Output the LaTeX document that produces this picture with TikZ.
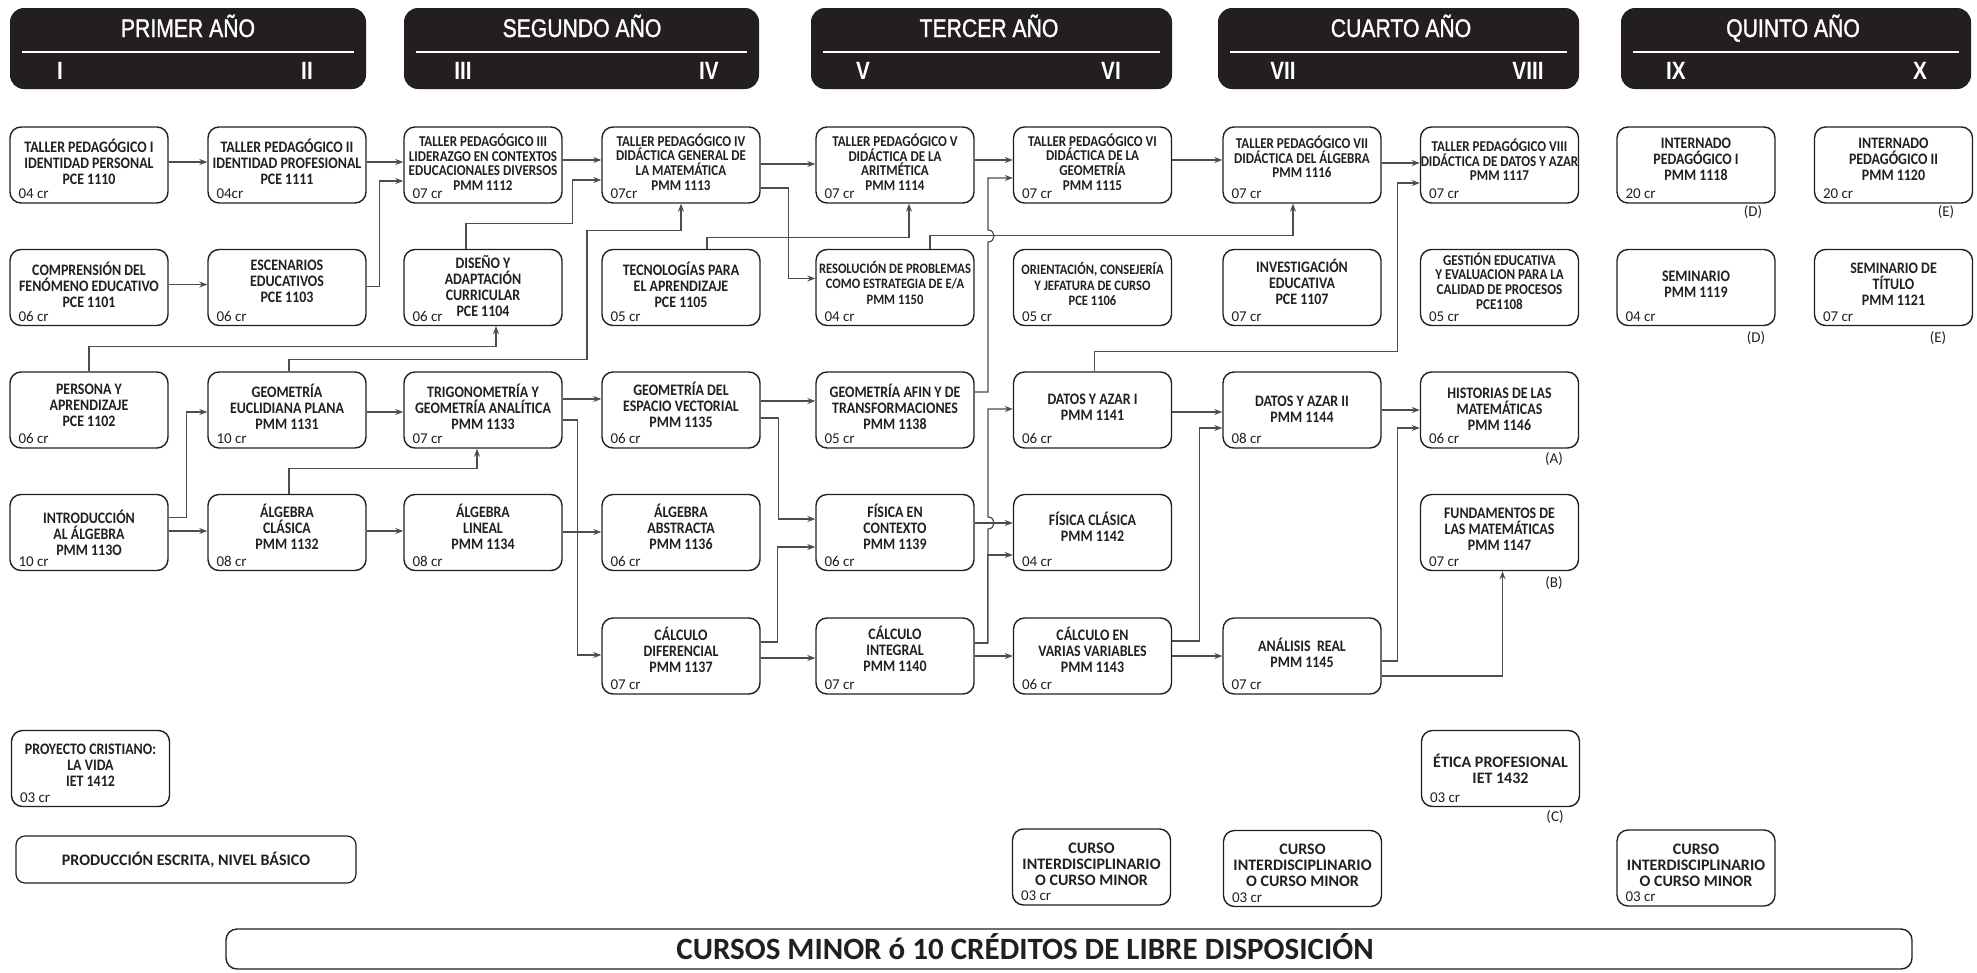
\documentclass[tikz,border=0pt]{standalone}
\usepackage{fontspec}
\setmainfont{Carlito}
\newfontfamily\condb{Carlito}[FakeStretch=0.87]
\newfontfamily\headf{Liberation Sans}[FakeStretch=0.83]
\newfontfamily\headfb{Liberation Sans}[FakeStretch=0.83,FakeBold=1.2]
\usetikzlibrary{arrows.meta,calc}
\definecolor{boxc}{HTML}{231F20}
\definecolor{linec}{HTML}{4D4D4D}
\definecolor{headc}{HTML}{231F20}
\tikzset{
  cbox/.style={draw=boxc, line width=1.4pt, rounded corners=11, minimum width=158, minimum height=76, inner sep=0},
  ctext/.style={align=center, inner sep=0, text=boxc, font=\condb\bfseries\fontsize{16}{16}\selectfont},
  ctext4/.style={align=center, inner sep=0, text=boxc, font=\condb\bfseries\fontsize{15}{14.6}\selectfont},
  ctextS/.style={align=center, inner sep=0, text=boxc, font=\condb\bfseries\fontsize{14.4}{15.5}\selectfont},
  cbig/.style={align=center, inner sep=0, text=boxc, font=\bfseries\fontsize{16}{16}\selectfont},
  crtext/.style={anchor=base west, inner sep=0, text=boxc, font=\fontsize{15}{16}\selectfont},
  lbl/.style={inner sep=0, text=boxc, font=\fontsize{15}{16}\selectfont},
  conn/.style={draw=linec, line width=1.2pt, -{Stealth[length=8pt,width=6pt]}},
  hbox/.style={fill=headc, rounded corners=14, minimum height=81, inner sep=0},
  htitle/.style={anchor=base, inner sep=0, text=white, font=\headfb\fontsize{25.5}{25.5}\selectfont},
  hnum/.style={anchor=base, inner sep=0, text=white, font=\headf\bfseries\fontsize{25}{25}\selectfont},
}
\newcommand\mkc[6]{%
  \node[cbox] (#1) at (#2,#3) {};
  \node[#4] (#1t) at ($(#1.center)+(0,-3)$) {#5};
  \node[crtext] (#1c) at ($(#1.south west)+(9,-5)$) {#6};}
\newcommand\mkhead[9]{%
  \node[hbox, minimum width=#3-#2] (#1) at ({(#2+#3)/2},48.5) {};
  \draw[white, line width=1.5pt] ($(#1.west)+(12,3.5)$) -- ($(#1.east)+(-12,3.5)$);
  \node[htitle] (#1t) at (#4,37) {#5};
  \node[hnum] (#1a) at (#6,79) {#7};
  \node[hnum] (#1b) at (#8,79) {#9};}
\begin{document}
\begin{tikzpicture}[x=1pt,y=-1pt]
\fill[white] (0,0) rectangle (1977,972);
\useasboundingbox (0,0) rectangle (1977,972);
% headers
\mkhead{h1}{10}{366}{188}{PRIMER AÑO}{60}{I}{307}{II}
\mkhead{h2}{404}{759}{582}{SEGUNDO AÑO}{463}{III}{709}{IV}
\mkhead{h3}{811}{1172}{989}{TERCER AÑO}{863}{V}{1111}{VI}
\mkhead{h4}{1218}{1579}{1401}{CUARTO AÑO}{1283}{VII}{1528}{VIII}
\mkhead{h5}{1621}{1971}{1793}{QUINTO AÑO}{1676}{IX}{1920}{X}
% row 1
\mkc{tp1}{89}{165}{ctext}{TALLER PEDAGÓGICO I\\IDENTIDAD PERSONAL\\PCE 1110}{04 cr}
\mkc{tp2}{287}{165}{ctext}{TALLER PEDAGÓGICO II\\IDENTIDAD PROFESIONAL\\PCE 1111}{04cr}
\mkc{tp3}{483}{165}{ctext4}{TALLER PEDAGÓGICO III\\LIDERAZGO EN CONTEXTOS\\EDUCACIONALES DIVERSOS\\PMM 1112}{07 cr}
\mkc{tp4}{681}{165}{ctext4}{TALLER PEDAGÓGICO IV\\DIDÁCTICA GENERAL DE\\LA MATEMÁTICA\\PMM 1113}{07cr}
\mkc{tp5}{895}{165}{ctext4}{TALLER PEDAGÓGICO V\\DIDÁCTICA DE LA\\ARITMÉTICA\\PMM 1114}{07 cr}
\mkc{tp6}{1092.5}{165}{ctext4}{TALLER PEDAGÓGICO VI\\DIDÁCTICA DE LA\\GEOMETRÍA\\PMM 1115}{07 cr}
\mkc{tp7}{1302}{165}{ctext4,yshift=5}{TALLER PEDAGÓGICO VII\\DIDÁCTICA DEL ÁLGEBRA\\PMM 1116}{07 cr}
\mkc{tp8}{1499.5}{165}{ctext4,yshift=2}{TALLER PEDAGÓGICO VIII\\DIDÁCTICA DE DATOS Y AZAR\\PMM 1117}{07 cr}
\mkc{int1}{1696}{165}{ctext,yshift=3}{INTERNADO\\PEDAGÓGICO I\\PMM 1118}{20 cr}
\mkc{int2}{1893.5}{165}{ctext,yshift=3}{INTERNADO\\PEDAGÓGICO II\\PMM 1120}{20 cr}
% row 2
\mkc{comp}{89}{287.5}{ctext}{COMPRENSIÓN DEL\\FENÓMENO EDUCATIVO\\PCE 1101}{06 cr}
\mkc{esc}{287}{287.5}{ctext,yshift=3}{ESCENARIOS\\EDUCATIVOS\\PCE 1103}{06 cr}
\mkc{dis}{483}{287.5}{ctext,yshift=-1.5}{DISEÑO Y\\ADAPTACIÓN\\CURRICULAR\\PCE 1104}{06 cr}
\mkc{tec}{681}{287.5}{ctext}{TECNOLOGÍAS PARA\\EL APRENDIZAJE\\PCE 1105}{05 cr}
\mkc{res}{895}{287.5}{ctextS,yshift=2}{RESOLUCIÓN DE PROBLEMAS\\COMO ESTRATEGIA DE E/A\\PMM 1150}{04 cr}
\mkc{ori}{1092.5}{287.5}{ctextS}{ORIENTACIÓN, CONSEJERÍA\\Y JEFATURA DE CURSO\\PCE 1106}{05 cr}
\mkc{inv}{1302}{287.5}{ctext,yshift=2.5}{INVESTIGACIÓN\\EDUCATIVA\\PCE 1107}{07 cr}
\mkc{ges}{1499.5}{287.5}{ctext4,yshift=3.5}{GESTIÓN EDUCATIVA\\Y EVALUACION PARA LA\\CALIDAD DE PROCESOS\\PCE1108}{05 cr}
\mkc{sem}{1696}{287.5}{ctext}{SEMINARIO\\PMM 1119}{04 cr}
\mkc{semt}{1893.5}{287.5}{ctext}{SEMINARIO DE\\TÍTULO\\PMM 1121}{07 cr}
% row 3
\mkc{per}{89}{410}{ctext,yshift=2}{PERSONA Y\\APRENDIZAJE\\PCE 1102}{06 cr}
\mkc{geo}{287}{410}{ctext}{GEOMETRÍA\\EUCLIDIANA PLANA\\PMM 1131}{10 cr}
\mkc{trig}{483}{410}{ctext}{TRIGONOMETRÍA Y\\GEOMETRÍA ANALÍTICA\\PMM 1133}{07 cr}
\mkc{gev}{681}{410}{ctext,yshift=2}{GEOMETRÍA DEL\\ESPACIO VECTORIAL\\PMM 1135}{06 cr}
\mkc{afin}{895}{410}{ctext}{GEOMETRÍA AFIN Y DE\\TRANSFORMACIONES\\PMM 1138}{05 cr}
\mkc{dat1}{1092.5}{410}{ctext}{DATOS Y AZAR I\\PMM 1141}{06 cr}
\mkc{dat2}{1302}{410}{ctext,yshift=-2}{DATOS Y AZAR II\\PMM 1144}{08 cr}
\mkc{hist}{1499.5}{410}{ctext,yshift=-2}{HISTORIAS DE LAS\\MATEMÁTICAS\\PMM 1146}{06 cr}
% row 4
\mkc{intro}{89}{532.5}{ctext,yshift=-3}{INTRODUCCIÓN\\AL ÁLGEBRA\\PMM 113O}{10 cr}
\mkc{alc}{287}{532.5}{ctext,yshift=2.5}{ÁLGEBRA\\CLÁSICA\\PMM 1132}{08 cr}
\mkc{alin}{483}{532.5}{ctext,yshift=2.5}{ÁLGEBRA\\LINEAL\\PMM 1134}{08 cr}
\mkc{aab}{681}{532.5}{ctext,yshift=2.5}{ÁLGEBRA\\ABSTRACTA\\PMM 1136}{06 cr}
\mkc{fcon}{895}{532.5}{ctext,yshift=2.5}{FÍSICA EN\\CONTEXTO\\PMM 1139}{06 cr}
\mkc{fcla}{1092.5}{532.5}{ctext,yshift=2.5}{FÍSICA CLÁSICA\\PMM 1142}{04 cr}
\mkc{fund}{1499.5}{532.5}{ctext}{FUNDAMENTOS DE\\LAS MATEMÁTICAS\\PMM 1147}{07 cr}
% row 5
\mkc{cdif}{681}{656}{ctext,yshift=3}{CÁLCULO\\DIFERENCIAL\\PMM 1137}{07 cr}
\mkc{cint}{895}{656}{ctext,yshift=4}{CÁLCULO\\INTEGRAL\\PMM 1140}{07 cr}
\mkc{cvar}{1092.5}{656}{ctext,yshift=3}{CÁLCULO EN\\VARIAS VARIABLES\\PMM 1143}{06 cr}
\mkc{ar}{1302}{656}{ctext}{ANÁLISIS\ \ REAL\\PMM 1145}{07 cr}
% others
\mkc{proy}{90.5}{768.5}{ctext}{PROYECTO CRISTIANO:\\LA VIDA\\IET 1412}{03 cr}
\mkc{etica}{1500.5}{768.5}{cbig,yshift=-3}{ÉTICA PROFESIONAL\\IET 1432}{03 cr}
\mkc{ci1}{1091.5}{867}{cbig}{CURSO\\INTERDISCIPLINARIO\\O CURSO MINOR}{03 cr}
\mkc{ci2}{1302.5}{868.5}{cbig}{CURSO\\INTERDISCIPLINARIO\\O CURSO MINOR}{03 cr}
\mkc{ci3}{1696}{868}{cbig}{CURSO\\INTERDISCIPLINARIO\\O CURSO MINOR}{03 cr}
\node[draw=boxc, line width=1.2pt, rounded corners=9, minimum width=340, minimum height=47, inner sep=0, font=\bfseries\fontsize{16}{16}\selectfont, text=boxc] (prod) at (186,859.5) {PRODUCCIÓN ESCRITA, NIVEL BÁSICO};
\node[draw=boxc, line width=1.4pt, rounded corners=11, minimum width=1686, minimum height=40, inner sep=0] (ban) at (1069,949) {};
\node[anchor=base, inner sep=0, text=boxc, font=\bfseries\fontsize{31}{31}\selectfont] (bant) at (1025,959) {CURSOS MINOR ó 10 CRÉDITOS DE LIBRE DISPOSICIÓN};
% letter labels
\node[lbl] (lD1) at (1753,212) {(D)};
\node[lbl] (lE1) at (1946,212) {(E)};
\node[lbl] (lD2) at (1756,338) {(D)};
\node[lbl] (lE2) at (1938,338) {(E)};
\node[lbl] (lA) at (1554,459) {(A)};
\node[lbl] (lB) at (1554,583) {(B)};
\node[lbl] (lC) at (1555,817) {(C)};
% hop points
\coordinate (hop1) at (988,236);
\coordinate (hop2) at (988,523);
% connectors row 1/2
\draw[conn] ($(tp1.east)+(0,-3)$) -- ($(tp2.west)+(0,-3)$);
\draw[conn] ($(tp2.east)+(0,-3)$) -- ($(tp3.west)+(0,-3)$);
\draw[conn] ($(comp.east)+(0,-3)$) -- ($(esc.west)+(0,-3)$);
\draw[conn] ($(esc.east)+(0,-1)$) -- ++(13,0) |- ($(tp3.west)+(0,16)$);
\draw[conn] ($(tp3.east)+(0,-5)$) -- ($(tp4.west)+(0,-5)$);
\draw[conn] ($(dis.north)+(-17,0)$) -- ++(0,-25) -| ($(tp4.west)+(-29,15)$) -- ($(tp4.west)+(0,15)$);
\draw[conn] ($(tp4.east)+(0,-1)$) -- ($(tp5.west)+(0,-1)$);
\draw[conn] ($(tp4.east)+(0,23)$) -- ++(28,0) |- ($(res.west)+(0,-9)$);
\draw[conn] ($(geo.north)+(2,0)$) -- ++(0,-12) -| ($(tp4.south)+(-94,27)$) -| (tp4.south);
\draw[conn] (per.north) -- ++(0,-25) -| ($(dis.south)+(13,0)$);
\draw[conn] ($(alc.north)+(2,0)$) -- ++(0,-25) -| ($(trig.south)+(-6,0)$);
\draw[conn] ($(tec.north)+(26,0)$) -- ++(0,-11) -| ($(tp5.south)+(14,0)$);
\draw[conn] ($(res.north)+(35,0)$) -- ++(0,-13) -| ($(tp7.south)+(-9,0)$);
\draw[conn] ($(tp5.east)+(0,-5)$) -- ($(tp6.west)+(0,-5)$);
\draw[conn] ($(afin.east)+(0,-18)$) -| ($(hop1)+(0,6)$) .. controls ($(hop1)+(8,6)$) and ($(hop1)+(8,-6)$) .. ($(hop1)+(0,-6)$) |- ($(tp6.west)+(0,13)$);
\draw[conn] ($(tp6.east)+(0,-5)$) -- ($(tp7.west)+(0,-5)$);
\draw[conn] ($(tp7.east)+(0,-2)$) -- ($(tp8.west)+(0,-2)$);
\draw[conn] ($(dat1.north)+(2,0)$) -- ++(0,-20) -| ($(tp8.west)+(-22,18)$) -- ($(tp8.west)+(0,18)$);
% connectors rows 3-5
\draw[conn] ($(intro.east)+(0,-15)$) -- ++(18,0) |- ($(geo.west)+(0,2)$);
\draw[conn] ($(intro.east)+(0,-1.5)$) -- ($(alc.west)+(0,-1.5)$);
\draw[conn] ($(geo.east)+(0,2)$) -- ($(trig.west)+(0,2)$);
\draw[conn] ($(alc.east)+(0,-1.5)$) -- ($(alin.west)+(0,-1.5)$);
\draw[conn] ($(trig.east)+(0,-11)$) -- ($(gev.west)+(0,-11)$);
\draw[conn] ($(trig.east)+(0,10)$) -- ++(15,0) |- ($(cdif.west)+(0,-1)$);
\draw[conn] ($(alin.east)+(0,-0.5)$) -- ($(aab.west)+(0,-0.5)$);
\draw[conn] ($(gev.east)+(0,-9)$) -- ($(afin.west)+(0,-9)$);
\draw[conn] ($(gev.east)+(0,8)$) -- ++(18,0) |- ($(fcon.west)+(0,-13.5)$);
\draw[conn] ($(cdif.east)+(0,-14)$) -- ++(17,0) |- ($(fcon.west)+(0,14.5)$);
\draw[conn] ($(cdif.east)+(0,2)$) -- ($(cint.west)+(0,2)$);
\draw[conn] ($(cint.east)+(0,-13)$) -| ($(hop2)+(0,6)$) .. controls ($(hop2)+(8,6)$) and ($(hop2)+(8,-6)$) .. ($(hop2)+(0,-6)$) |- ($(dat1.west)+(0,-1)$);
\draw[conn] ($(cint.east)+(0,-13)$) -| ($(fcla.west)+(-25,22.5)$) -- ($(fcla.west)+(0,22.5)$);
\draw[conn] ($(fcon.east)+(0,-9.5)$) -- ($(fcla.west)+(0,-9.5)$);
\draw[conn] (cint.east) -- (cvar.west);
\draw[conn] ($(dat1.east)+(0,2)$) -- ($(dat2.west)+(0,2)$);
\draw[conn] ($(cvar.east)+(0,-15)$) -- ++(27,0) |- ($(dat2.west)+(0,18)$);
\draw[conn] (cvar.east) -- (ar.west);
\draw[conn] (dat2.east) -- (hist.west);
\draw[conn] ($(ar.east)+(0,5)$) -- ++(16,0) |- ($(hist.west)+(0,18)$);
\draw[conn] ($(ar.east)+(0,20)$) -| ($(fund.south)+(3,0)$);
\end{tikzpicture}
\end{document}
